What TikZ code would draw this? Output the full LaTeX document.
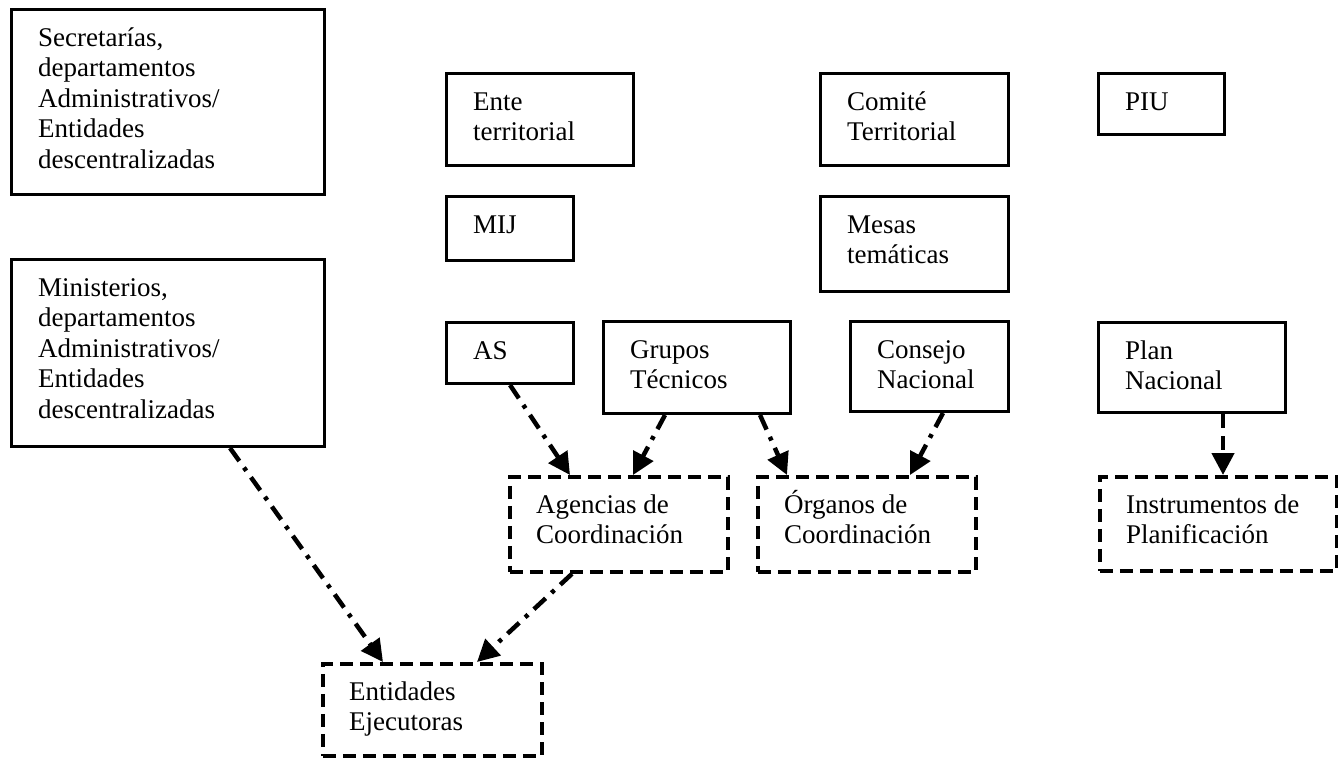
\documentclass[tikz,border=0pt]{standalone}
\usepackage{fontspec}
\setmainfont{Liberation Serif}
\usetikzlibrary{calc,arrows.meta}
\tikzset{
  solidbox/.style={draw=black, line width=3pt, rectangle, inner sep=0pt, fill=none},
  dashbox/.style={draw=black, line width=3.8pt, rectangle, inner sep=0pt, dash pattern=on 13pt off 7pt},
  lbl/.style={anchor=base west, inner sep=0pt},
  dd/.style={line width=4.5pt, dash pattern=on 16pt off 8pt on 4pt off 8pt, -{Triangle[length=22pt,width=22pt]}},
  dsh/.style={line width=4.5pt, dash pattern=on 14pt off 8pt, -{Triangle[length=22pt,width=22pt]}}
}
\newcommand{\mkbox}[7]{%
  \node[#2, anchor=north west, minimum width={#5-#3}, minimum height={#6-#4}] (#1) at (#3,#4) {};
  \node[lbl] (#1-t) at ($(#1.north west)+(28,38)$) {\parbox[t]{300pt}{\fontsize{27pt}{30.5pt}\selectfont\raggedright #7}};
}
\begin{document}
\begin{tikzpicture}[x=1pt,y=-1pt]
\useasboundingbox (0,0) rectangle (1338,758);
\fill[white] (0,0) rectangle (1338,758);
\clip (0,0) rectangle (1338,758);
% solid boxes
\mkbox{sec}{solidbox}{10}{8}{323}{193}{Secretarías,\\departamentos\\Administrativos/\\Entidades\\descentralizadas}
\mkbox{min}{solidbox}{10}{258}{323}{445}{Ministerios,\\departamentos\\Administrativos/\\Entidades\\descentralizadas}
\mkbox{ente}{solidbox}{445}{72}{632}{164}{Ente\\territorial}
\mkbox{mij}{solidbox}{445}{195}{572}{259}{MIJ}
\mkbox{com}{solidbox}{819}{72}{1007}{164}{Comité\\Territorial}
\mkbox{mes}{solidbox}{819}{195}{1007}{290}{Mesas\\temáticas}
\mkbox{piu}{solidbox}{1097}{72}{1223}{133}{PIU}
\mkbox{as}{solidbox}{445}{321}{572}{382}{AS}
\mkbox{gru}{solidbox}{602}{320}{789}{412}{Grupos\\Técnicos}
\mkbox{con}{solidbox}{849}{320}{1007}{410}{Consejo\\Nacional}
\mkbox{plan}{solidbox}{1097}{321}{1284}{411}{Plan\\Nacional}
% dashed boxes
\mkbox{ag}{dashbox}{508}{475}{726}{570}{Agencias de\\Coordinación}
\mkbox{org}{dashbox}{756}{475}{974}{570}{Órganos de\\Coordinación}
\mkbox{ins}{dashbox}{1098}{475}{1335}{569}{Instrumentos de\\Planificación}
\mkbox{ent}{dashbox}{321}{662}{540}{754}{Entidades\\Ejecutoras}
% connectors
\draw[dd] ($(min.south west)+(220,0)$) -- ($(ent.north west)+(62,0)$);
\draw[dd] ($(as.south west)+(65,0)$) -- ($(ag.north west)+(62,0)$);
\draw[dd] ($(gru.south west)+(63,0)$) -- ($(ag.north west)+(125,0)$);
\draw[dd] ($(gru.south west)+(158,0)$) -- ($(org.north west)+(31,0)$);
\draw[dd] ($(con.south west)+(94,0)$) -- ($(org.north west)+(154,0)$);
\draw[dsh] ($(plan.south west)+(126,0)$) -- ($(ins.north west)+(125,0)$);
\draw[dd] ($(ag.south west)+(64,0)$) -- ($(ent.north west)+(156,0)$);
\end{tikzpicture}
\end{document}
